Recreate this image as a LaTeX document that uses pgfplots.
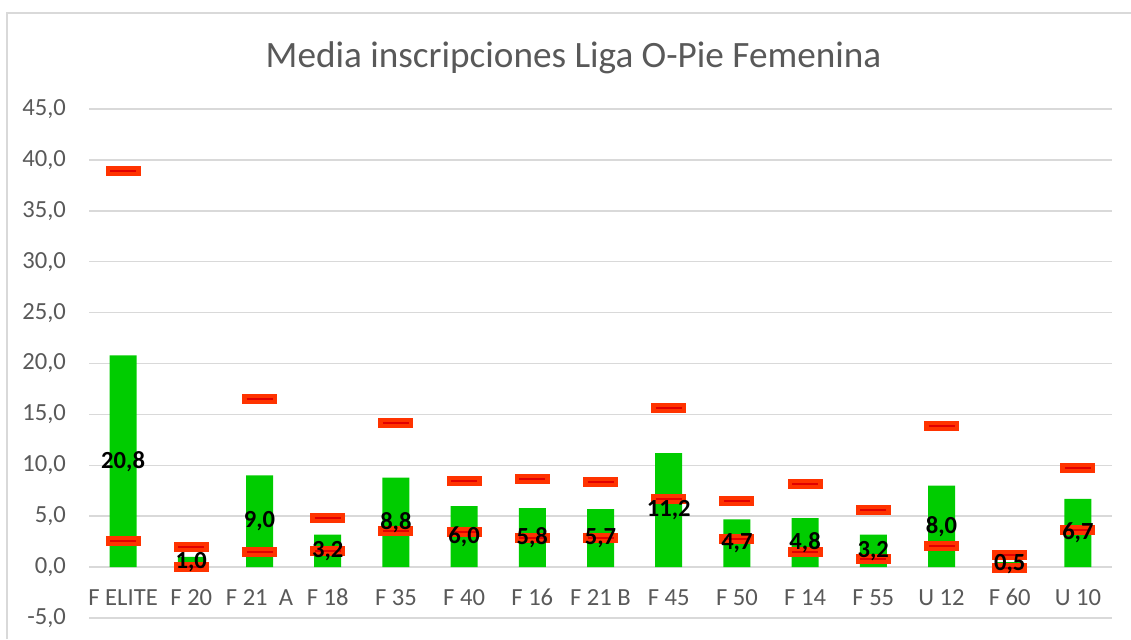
\documentclass[border=0pt]{standalone}
\usepackage{fontspec}
\setmainfont{Carlito}
\usepackage{pgfplots}
\usepackage{pgfplotstable}
\pgfplotsset{compat=1.18}

\definecolor{barGreen}{RGB}{0,204,0}
\definecolor{markFill}{RGB}{255,51,0}
\definecolor{markLine}{RGB}{225,0,0}
\definecolor{gridGray}{RGB}{217,217,217}
\definecolor{textGray}{RGB}{89,89,89}

% Excel-like "dash" marker: rounded orange-red box with a red stroke
\pgfdeclareplotmark{dashbox}{%
  \pgfsetfillcolor{markFill}%
  \pgfsetcornersarced{\pgfpoint{1.5pt}{1.5pt}}%
  \pgfpathrectangle{\pgfpoint{-8.75pt}{-2.5pt}}{\pgfpoint{17.5pt}{5pt}}%
  \pgfusepathqfill
  \pgfsetcornersarced{\pgfpointorigin}%
  \pgfsetstrokecolor{markLine}%
  \pgfsetlinewidth{1pt}%
  \pgfpathmoveto{\pgfpoint{-6.5pt}{0pt}}%
  \pgfpathlineto{\pgfpoint{6.5pt}{0pt}}%
  \pgfusepathqstroke
}

% media, maximo, minimo
\pgfplotstableread{
x  val   max   min
0  20.8  38.9  2.6
1  1.0   2.0   0.0
2  9.0   16.5  1.5
3  3.2   4.8   1.6
4  8.8   14.2  3.5
5  6.0   8.5   3.4
6  5.8   8.7   2.9
7  5.7   8.4   2.9
8  11.2  15.6  6.7
9  4.7   6.5   2.8
10 4.8   8.2   1.5
11 3.2   5.6   0.8
12 8.0   13.9  2.1
13 0.5   1.2   -0.1
14 6.7   9.7   3.6
}\datatab

\begin{document}
\begin{tikzpicture}
\path[use as bounding box] (0,0) rectangle (565.5pt,319.5pt);
\draw[gridGray, line width=0.9pt] (3.5pt,0) -- (3.5pt,313pt) -- (565.5pt,313pt);
\node[text=textGray, font=\fontsize{18.6}{22}\selectfont] at (286.75pt,290.5pt)
  {Media inscripciones Liga O-Pie Femenina};

\begin{axis}[
    at={(44.5pt,10.5pt)}, anchor=south west,
    scale only axis,
    width=511.5pt, height=254.5pt,
    xmin=-0.5, xmax=14.5,
    ymin=-5, ymax=45,
    ytick={-5,0,...,45},
    xtick={0,...,14},
    xticklabels={F ELITE,F 20,F 21\ \ A,F 18,F 35,F 40,F 16,F 21 B,F 45,F 50,F 14,F 55,U 12,F 60,U 10},
    ymajorgrids,
    major grid style={gridGray, line width=0.75pt},
    axis line style={draw=none},
    major tick length=0pt,
    tick style={draw=none},
    yticklabel style={font=\fontsize{12.3}{14}\selectfont, text=textGray, xshift=-8pt,
      /pgf/number format/.cd, use comma, fixed, fixed zerofill, precision=1, assume math mode=true},
    xticklabel style={font=\fontsize{12.3}{14}\selectfont, text=textGray, anchor=base, yshift=6.5pt},
    clip=false,
  ]
\addplot[ybar, bar width=13.5pt, fill=barGreen, draw=none] table[x=x, y=val]{\datatab};
\addplot[only marks, mark=dashbox] table[x=x, y=max]{\datatab};
\addplot[only marks, mark=dashbox] table[x=x, y=min]{\datatab};
\addplot[draw=none, mark=none, point meta=explicit,
    nodes near coords={\pgfmathprintnumber[use comma, fixed, fixed zerofill, precision=1, assume math mode=true]{\pgfplotspointmeta}},
    nodes near coords align={anchor=center},
    every node near coord/.append style={font=\bfseries\fontsize{12.3}{14}\selectfont, text=black, inner sep=0pt}]
  table[x=x, y expr=\thisrow{val}/2, meta=val]{\datatab};
\end{axis}
\end{tikzpicture}
\end{document}
